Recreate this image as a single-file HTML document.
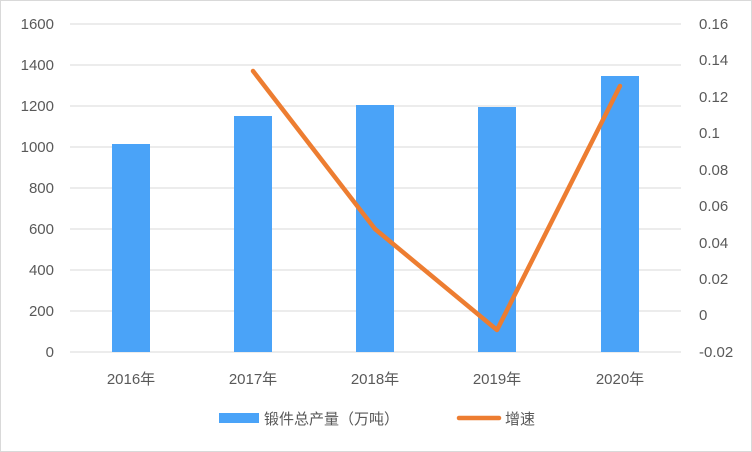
<!DOCTYPE html>
<html><head><meta charset="utf-8"><style>
html,body{margin:0;padding:0;background:#fff;}
svg{display:block;}
text{font-family:"Liberation Sans","Noto Sans CJK SC",sans-serif;fill:#595959;font-size:15px;}
</style></head><body>
<svg width="752" height="452" viewBox="0 0 752 452">
<rect x="0.5" y="0.5" width="751" height="451" fill="#fff" stroke="#d9d9d9"/>
<g stroke="#d9d9d9" stroke-width="1">
<line x1="70" x2="681" y1="24" y2="24"/>
<line x1="70" x2="681" y1="65" y2="65"/>
<line x1="70" x2="681" y1="106" y2="106"/>
<line x1="70" x2="681" y1="147" y2="147"/>
<line x1="70" x2="681" y1="188" y2="188"/>
<line x1="70" x2="681" y1="229" y2="229"/>
<line x1="70" x2="681" y1="270" y2="270"/>
<line x1="70" x2="681" y1="311" y2="311"/>
<line x1="70" x2="681" y1="352" y2="352"/>
</g>
<g text-anchor="end">
<text x="54" y="29">1600</text>
<text x="54" y="70">1400</text>
<text x="54" y="111">1200</text>
<text x="54" y="152">1000</text>
<text x="54" y="193">800</text>
<text x="54" y="234">600</text>
<text x="54" y="275">400</text>
<text x="54" y="316">200</text>
<text x="54" y="357">0</text>
</g>
<g text-anchor="start">
<text x="699" y="29">0.16</text>
<text x="699" y="65">0.14</text>
<text x="699" y="102">0.12</text>
<text x="699" y="138">0.1</text>
<text x="699" y="175">0.08</text>
<text x="699" y="211">0.06</text>
<text x="699" y="248">0.04</text>
<text x="699" y="284">0.02</text>
<text x="699" y="320">0</text>
<text x="699" y="357">-0.02</text>
</g>
<g fill="#4aa3f8">
<rect x="112" y="144" width="38" height="208"/>
<rect x="234" y="116" width="38" height="236"/>
<rect x="356" y="105" width="38" height="247"/>
<rect x="478" y="107" width="38" height="245"/>
<rect x="601" y="76" width="38" height="276"/>
</g>
<polyline points="253,71 375,229 497,330 620,86" fill="none" stroke="#ed7d31" stroke-width="4.5" stroke-linecap="round" stroke-linejoin="round"/>
<g text-anchor="middle">
<text x="131" y="384">2016年</text>
<text x="253" y="384">2017年</text>
<text x="375" y="384">2018年</text>
<text x="497" y="384">2019年</text>
<text x="620" y="384">2020年</text>
</g>
<rect x="219" y="413" width="40" height="10" fill="#4aa3f8"/>
<text x="264" y="424">锻件总产量（万吨）</text>
<line x1="459" x2="499" y1="418" y2="418" stroke="#ed7d31" stroke-width="4.5" stroke-linecap="round"/>
<text x="505" y="424">增速</text>
</svg>
</body></html>
